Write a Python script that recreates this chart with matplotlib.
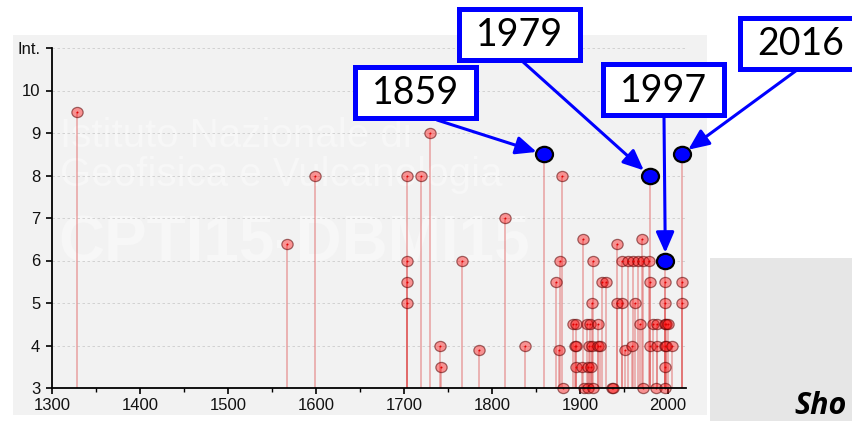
import matplotlib
matplotlib.use("Agg")
import matplotlib.pyplot as plt
from matplotlib.patches import Rectangle
from matplotlib.path import Path
from matplotlib.transforms import Affine2D

# Macroseismic history of Norcia: year of each event and the intensity felt
years = [1328, 1567, 1599, 1703, 1703, 1703, 1703, 1719, 1730, 1741, 1742,
         1766, 1785, 1815, 1838, 1859, 1873, 1876, 1877, 1879, 1881,
         1892, 1894, 1896, 1896, 1896, 1902, 1903, 1904, 1908, 1909, 1909,
         1910, 1911, 1912, 1914, 1914, 1915, 1915, 1920, 1920, 1923, 1925,
         1929, 1936, 1938, 1942, 1942, 1948, 1948, 1951, 1954, 1959, 1960,
         1962, 1966, 1968, 1970, 1972, 1972, 1978, 1979, 1979, 1980, 1983,
         1986, 1987, 1987, 1997, 1997, 1997, 1997, 1997, 1997, 1997, 1998,
         1998, 2000, 2004, 2016, 2016, 2016]
intensity = [9.5, 6.4, 8.0, 8.0, 6.0, 5.5, 5.0, 8.0, 9.0, 4.0, 3.5,
             6.0, 3.9, 7.0, 4.0, 8.5, 5.5, 3.9, 6.0, 8.0, 3.0,
             4.5, 4.0, 4.5, 4.0, 3.5, 3.5, 6.5, 3.0, 4.5, 3.0, 3.5,
             4.0, 4.5, 3.5, 5.0, 4.0, 6.0, 3.0, 4.5, 4.0, 4.0, 5.5,
             5.5, 3.0, 3.0, 6.4, 5.0, 5.0, 6.0, 3.9, 6.0, 4.0, 6.0,
             5.0, 6.0, 4.5, 6.5, 6.0, 3.0, 6.0, 8.0, 5.5, 4.0, 4.5,
             3.0, 4.5, 4.0, 6.0, 5.5, 5.0, 4.5, 4.0, 3.5, 3.0, 4.5,
             4.0, 4.5, 4.0, 8.5, 5.5, 5.0]

# Highlighted events
hl_years = [1859, 1979, 1997, 2016]
hl_intensity = [8.5, 8.0, 6.0, 8.5]
hl_labels = ["1859", "1979", "1997", "2016"]

x_ticks = [1300, 1400, 1500, 1600, 1700, 1800, 1900, 2000]
y_ticks = [3, 4, 5, 6, 7, 8, 9, 10, 11]
y_tick_labels = ["3", "4", "5", "6", "7", "8", "9", "10", "Int."]

W, H = 853, 421
fig = plt.figure(figsize=(W / 100, H / 100), dpi=100)
fig.patch.set_facecolor("white")


def fx(px):
    return px / W


def fy(py):
    return 1 - py / H


# grey chart panel
fig.patches.append(Rectangle((fx(13), fy(415)), (707 - 13) / W, (415 - 35) / H,
                             transform=fig.transFigure, facecolor="#f2f2f2",
                             edgecolor="none", zorder=-10))

# faded picture at the lower right of the slide
fig.patches.append(Rectangle((fx(710), fy(421)), (W - 710) / W, (421 - 258) / H,
                             transform=fig.transFigure, facecolor="#e6e6e6",
                             edgecolor="none", zorder=-10))

# watermark
wm = "#f7f7f7"
fig.text(fx(60), fy(147), "Istituto Nazionale di", color=wm, fontsize=29,
         family="Liberation Sans", va="baseline", zorder=-5)
fig.text(fx(60), fy(186), "Geofisica e Vulcanologia", color=wm, fontsize=29,
         family="Liberation Sans", va="baseline", zorder=-5)
fig.text(fx(58), fy(262), "CPTI15-DBMI15", color=wm, fontsize=46,
         family="Liberation Sans", weight="bold", va="baseline", zorder=-5)

ax = fig.add_axes([fx(52), fy(388), (685.6 - 52) / W, (388 - 48) / H])
ax.set_facecolor("none")
ax.set_xlim(1300, 2020)
ax.set_ylim(3, 11)

# stems
ax.vlines(years, 3, intensity, colors=(0.88, 0.35, 0.35, 0.45), linewidth=1.3,
          zorder=2)

# slightly flattened circular marker
ellipse = Path.unit_circle().transformed(Affine2D().scale(1.0, 0.9))
ax.scatter(years, intensity, s=66, marker=ellipse,
           facecolor=(1.0, 0.05, 0.05, 0.42), edgecolor=(0.35, 0.0, 0.0, 0.55),
           linewidth=0.9, zorder=3, clip_on=False)
ax.scatter(years, intensity, s=2, color="#e00000", zorder=4, clip_on=False,
           linewidth=0)

# highlighted events
ax.scatter(hl_years, hl_intensity, s=150, marker=ellipse, facecolor="#0000ff",
           edgecolor="black", linewidth=1.6, zorder=6, clip_on=False)

# label boxes (pixel centres) and arrow tails
box_centres = [(416, 92.5), (520, 34), (664, 89.5), (801, 43)]
arrow_tails = [(437, 120), (522, 61), (664, 117), (797, 70)]
bw, bh = 126, 56
lw_box = 3.6
inset = lw_box * 100 / 72 / 2
for (cx, cy), (tx, ty), yr, val, lab in zip(box_centres, arrow_tails, hl_years,
                                            hl_intensity, hl_labels):
    ax.annotate("", xy=(yr, val), xycoords="data",
                xytext=(tx, H - ty), textcoords="figure pixels",
                arrowprops=dict(arrowstyle="-|>,head_length=1.25,head_width=0.55",
                                color="#0000ff", lw=2.2, shrinkA=0, shrinkB=5.5),
                annotation_clip=False, zorder=5)
    fig.patches.append(Rectangle((fx(cx - bw / 2 + inset), fy(cy + bh / 2 - inset)),
                                 (bw - 2 * inset) / W, (bh - 2 * inset) / H,
                                 transform=fig.transFigure, facecolor="white",
                                 edgecolor="#0000ff", linewidth=lw_box, zorder=5))
    fig.text(fx(cx), fy(cy + 1), lab, ha="center", va="center", fontsize=27,
             family="Lato", color="black", zorder=6)

# slide text at the lower right edge
fig.text(fx(794), fy(421), "Sho", fontsize=22, family="Open Sans",
         style="italic", weight="bold", color="black", va="bottom", zorder=6)

# axes styling
for side in ("top", "right"):
    ax.spines[side].set_visible(False)
for side in ("left", "bottom"):
    ax.spines[side].set_linewidth(1.3)
    ax.spines[side].set_color("black")
    ax.spines[side].set_zorder(4)

ax.set_xticks(x_ticks)
ax.set_xticks([1350, 1450, 1550, 1650, 1750, 1850, 1950], minor=True)
ax.set_yticks(y_ticks)
ax.set_yticklabels(y_tick_labels)
ax.tick_params(axis="both", which="major", direction="out", length=4.5,
               width=1.2, labelsize=12, color="black", labelcolor="#111111")
ax.tick_params(axis="x", which="minor", direction="out", length=3, width=1.0)
ax.tick_params(axis="x", pad=3)
ax.tick_params(axis="y", pad=4)
for lbl in ax.get_xticklabels() + ax.get_yticklabels():
    lbl.set_family("Liberation Sans")

ax.grid(axis="y", linestyle=(0, (3, 3)), color="#cccccc", linewidth=0.6,
        zorder=0)
ax.set_axisbelow(True)

fig.savefig("out.png", dpi=100)
